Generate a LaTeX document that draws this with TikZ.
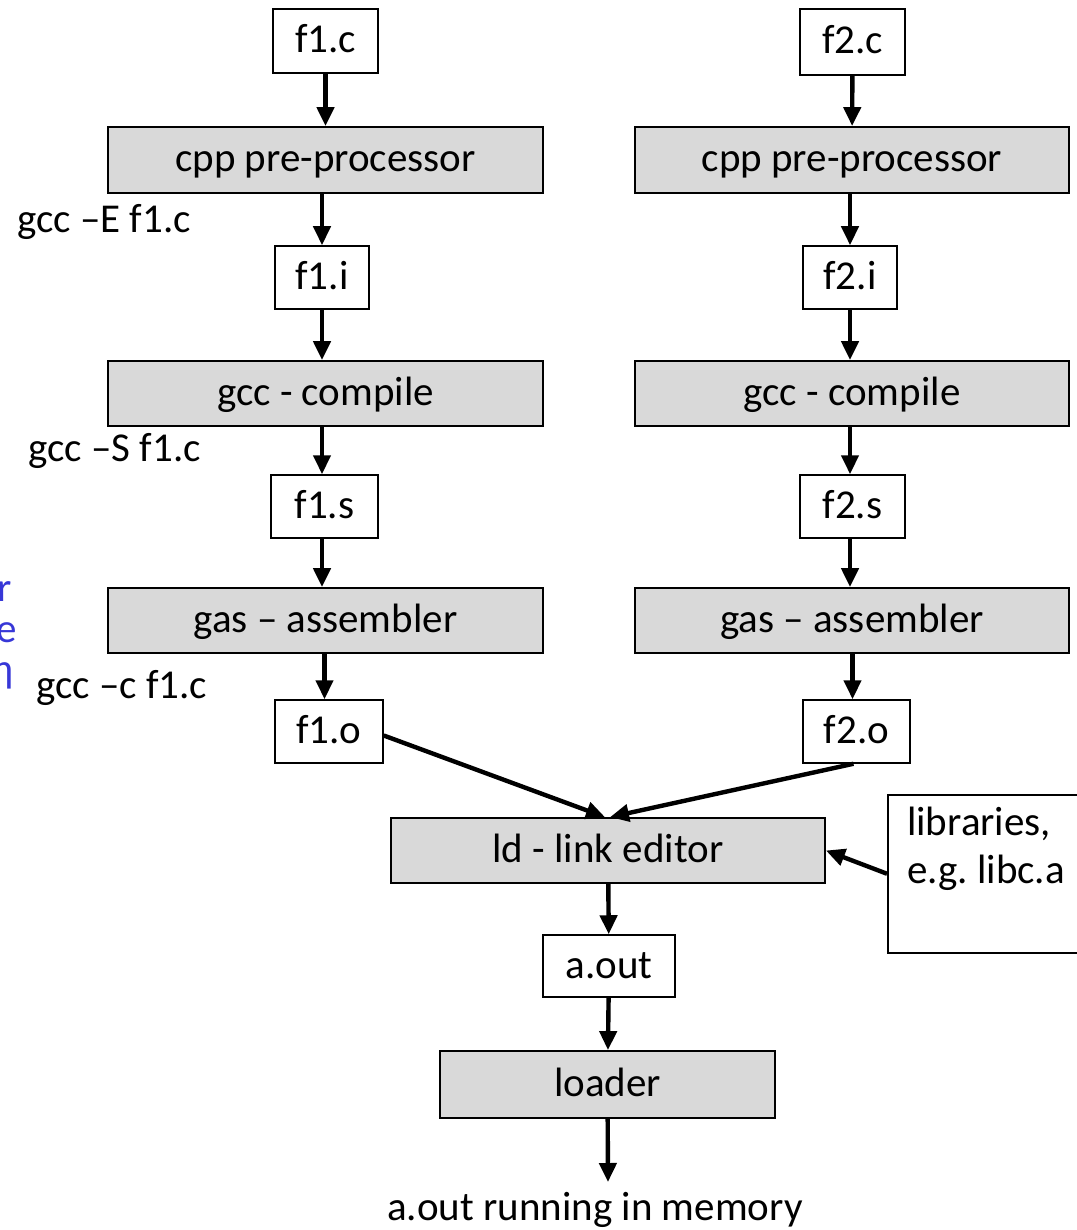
\documentclass[tikz,border=0pt]{standalone}
\usepackage{fontspec}
\setmainfont{Carlito}
\usetikzlibrary{arrows.meta}
\definecolor{boxgray}{HTML}{D9D9D9}
\definecolor{blueT}{RGB}{55,55,215}
\frenchspacing
\begin{document}
\begin{tikzpicture}[x=1pt,y=-1pt,
  every node/.style={font=\fontsize{41}{48}\selectfont},
  filebox/.style={draw=black,line width=1.5pt,fill=white,inner sep=0pt,text height=31pt,text depth=7pt},
  procbox/.style={draw=black,line width=1.8pt,fill=boxgray,inner sep=0pt,text height=31pt,text depth=7pt},
  flow/.style={line width=4.4pt,-{Triangle[length=19pt,width=17pt]}},
  cmd/.style={anchor=base west,inner sep=0pt}]
\useasboundingbox (0,0) rectangle (1076,1230);
% left column
\node[filebox,minimum width=105,minimum height=64] (f1c) at (325.5,41) {f1.c};
\node[procbox,minimum width=435,minimum height=66] (cpp1) at (325.5,160) {cpp pre-processor};
\node[filebox,minimum width=94,minimum height=63] (f1i) at (322,277.5) {f1.i};
\node[procbox,minimum width=435,minimum height=65] (comp1) at (325.5,393.5) {gcc - compile};
\node[filebox,minimum width=107,minimum height=63] (f1s) at (324.5,506.5) {f1.s};
\node[procbox,minimum width=435,minimum height=65] (as1) at (325.5,620.5) {gas – assembler};
\node[filebox,minimum width=108,minimum height=63] (f1o) at (329,731.5) {f1.o};
% right column
\node[filebox,minimum width=105,minimum height=66] (f2c) at (852.5,42) {f2.c};
\node[procbox,minimum width=434,minimum height=66] (cpp2) at (852,160) {cpp pre-processor};
\node[filebox,minimum width=94,minimum height=63] (f2i) at (850,277.5) {f2.i};
\node[procbox,minimum width=434,minimum height=65] (comp2) at (852,393.5) {gcc - compile};
\node[filebox,minimum width=105,minimum height=63] (f2s) at (852.5,506.5) {f2.s};
\node[procbox,minimum width=434,minimum height=65] (as2) at (852,620.5) {gas – assembler};
\node[filebox,minimum width=107,minimum height=63] (f2o) at (856.5,731.5) {f2.o};
% bottom
\node[procbox,minimum width=434,minimum height=65] (ld) at (608,850.5) {ld - link editor};
\node[filebox,minimum width=220,minimum height=158,anchor=north west] (lib) at (887,794) {};
\node[anchor=north west,align=left,inner sep=0pt] (libtxt) at (907,807) {libraries,\\e.g. libc.a};
\node[filebox,minimum width=132,minimum height=62] (aout) at (609,966) {a.out};
\node[procbox,minimum width=335,minimum height=67] (loader) at (607.5,1084.5) {loader};
\node[anchor=base,inner sep=0pt] (mem) at (595,1220) {a.out running in memory};
\coordinate (memtop) at (608,1182);
% command labels
\node[cmd] (cE) at (17,233) {gcc –E f1.c};
\node[cmd] (cS) at (28,461) {gcc –S f1.c};
\node[cmd] (cc) at (36,698) {gcc –c f1.c};
% clipped blue text at the left edge
\node[cmd,text=blueT] (b1) at (-3,601) {r};
\node[cmd,text=blueT] (b2) at (-4,642) {e};
\node[cmd,text=blueT] (b3) at (-9,682) {η};
% arrows
\draw[flow] (f1c) -- (cpp1);
\draw[flow] (cpp1.south -| f1i) -- (f1i);
\draw[flow] (f1i) -- (comp1.north -| f1i);
\draw[flow] (comp1.south -| f1i) -- (f1s.north -| f1i);
\draw[flow] (f1s.south -| f1i) -- (as1.north -| f1i);
\draw[flow] (as1.south -| f1s) -- (f1o.north -| f1s);
\draw[flow] (f2c) -- (cpp2);
\draw[flow] (cpp2.south -| f2i) -- (f2i);
\draw[flow] (f2i) -- (comp2.north -| f2i);
\draw[flow] (comp2.south -| f2i) -- (f2s.north -| f2i);
\draw[flow] (f2s.south -| f2i) -- (as2.north -| f2i);
\draw[flow] (as2.south -| f2s) -- (f2o.north -| f2s);
\draw[flow] ([yshift=-4]f1o.east) -- ([xshift=-3]ld.north);
\draw[flow] ([xshift=-3]f2o.south) -- ([xshift=2]ld.north);
\draw[flow] (lib.west) -- (ld.east);
\draw[flow] (ld) -- (aout);
\draw[flow] (aout) -- (loader);
\draw[flow] (loader) -- (memtop);
\end{tikzpicture}
\end{document}
